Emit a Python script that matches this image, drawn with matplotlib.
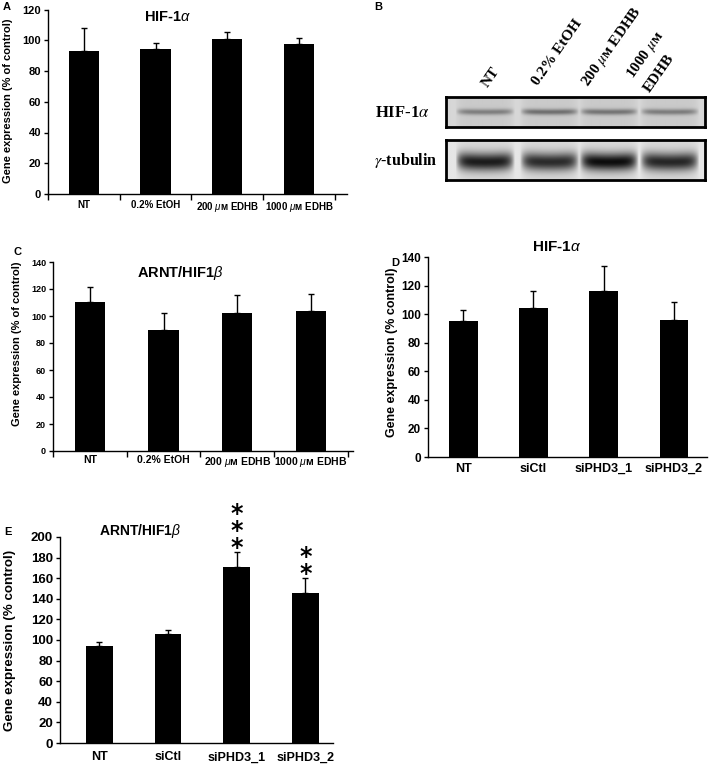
import numpy as np
import matplotlib
matplotlib.use("Agg")
import matplotlib.pyplot as plt

plt.rcParams["font.family"] = ["Liberation Sans", "DejaVu Sans"]
plt.rcParams["mathtext.fontset"] = "custom"
plt.rcParams["mathtext.it"] = "Liberation Sans:italic"
plt.rcParams["mathtext.rm"] = "Liberation Sans"

W, H = 709, 768

# Panel A: HIF-1a, EDHB treatment
a_labels = ["NT", "0.2% EtOH", r"200 $\mu$ᴍ EDHB", r"1000 $\mu$ᴍ EDHB"]
a_means = [93, 94.5, 100.5, 97.5]
a_err = [15, 3.5, 5, 4]

# Panel B: western blot lanes
b_lanes = ["NT", "0.2% EtOH", r"200 $\mu$ᴍ EDHB", r"1000 $\mu$ᴍ", "EDHB"]
b_hif = [0.30, 0.36, 0.34, 0.31]
b_tub = [0.74, 0.68, 0.80, 0.70]

# Panel C: ARNT, EDHB treatment
c_labels = a_labels
c_means = [110.5, 89.5, 102.5, 104]
c_err = [11, 12.5, 13, 12.5]

# Panel D: HIF-1a, siRNA
d_labels = ["NT", "siCtl", "siPHD3_1", "siPHD3_2"]
d_means = [95, 104, 116, 96]
d_err = [8, 12.5, 18, 12.5]

# Panel E: ARNT, siRNA
e_labels = d_labels
e_means = [94, 105.5, 171, 145.5]
e_err = [4.5, 4, 14.5, 14.5]
e_stars = [0, 0, 3, 2]


def rect(l, t, r, b):
    return [l / W, 1 - b / H, (r - l) / W, (b - t) / H]


def fig_text(x, y, s, **kw):
    fig.text(x / W, 1 - y / H, s, **kw)


def bar_panel(box, labels, means, err, ymax, ystep, xlim, width,
              yfs, xfs, xpad, cat_ticks):
    ax = fig.add_axes(rect(*box))
    x = np.arange(len(means))
    ax.bar(x, means, width=width, color="black", zorder=2)
    ax.errorbar(x, means, yerr=[np.zeros(len(err)), err], fmt="none",
                ecolor="black", elinewidth=1, capsize=2.5, capthick=1)
    ax.set_xlim(*xlim)
    ax.set_ylim(0, ymax)
    ax.set_yticks(np.arange(0, ymax + 1, ystep))
    ax.tick_params(axis="y", direction="out", length=3, width=1,
                   labelsize=yfs, pad=2)
    for t in ax.get_yticklabels():
        t.set_fontweight("bold")
    ax.set_xticks(x)
    ax.set_xticklabels(labels, fontsize=xfs, fontweight="bold")
    ax.tick_params(axis="x", length=0, pad=xpad)
    if cat_ticks:
        ax.set_xticks(np.arange(-0.5, len(means), 1.0), minor=True)
        ax.tick_params(axis="x", which="minor", direction="out",
                       length=4, width=1)
    for s in ["top", "right"]:
        ax.spines[s].set_visible(False)
    for s in ["left", "bottom"]:
        ax.spines[s].set_linewidth(1)
    return ax


fig = plt.figure(figsize=(W / 100, H / 100), dpi=100)

# A
axA = bar_panel((48, 9.5, 347, 194), a_labels, a_means, a_err, 120, 20,
                (-0.5, 3.67), 0.42, 8, 7, 4, True)
fig_text(168, 17, r"HIF-1$\alpha$", fontsize=10.5, fontweight="bold",
         ha="center", va="center")
fig_text(8, 101, "Gene expression (% of control)", fontsize=8,
         fontweight="bold", rotation=90, ha="center", va="center")
fig_text(7, 7, "A", fontsize=8, fontweight="bold", ha="center", va="center")

# C
axC = bar_panel((53, 262, 353, 451), c_labels, c_means, c_err, 140, 20,
                (-0.5, 3.57), 0.41, 6.5, 7.5, 3, True)
fig_text(180, 273, r"ARNT/HIF1$\beta$", fontsize=10.5, fontweight="bold",
         ha="center", va="center")
fig_text(17, 344, "Gene expression (% of control)", fontsize=8,
         fontweight="bold", rotation=90, ha="center", va="center")
fig_text(17, 252, "C", fontsize=8, fontweight="bold", ha="center", va="center")

# D
axD = bar_panel((428, 257, 707, 457), d_labels, d_means, d_err, 140, 20,
                (-0.5, 3.47), 0.41, 8.5, 9, 4, False)
fig_text(557, 247, r"HIF-1$\alpha$", fontsize=11, fontweight="bold",
         ha="center", va="center")
fig_text(392, 352, "Gene expression (% control)", fontsize=9,
         fontweight="bold", rotation=90, ha="center", va="center")
fig_text(395, 263, "D", fontsize=8, fontweight="bold", ha="center", va="center")

# E
axE = bar_panel((60, 537, 333, 743), e_labels, e_means, e_err, 200, 20,
                (-0.57, 3.4), 0.39, 9.5, 9, 6, False)
for i, n in enumerate(e_stars):
    if n:
        axE.annotate("\n".join(["*"] * n), (i, e_means[i] + e_err[i]),
                     xytext=(0, -8), textcoords="offset pixels",
                     ha="center", va="bottom", fontsize=17,
                     fontweight="bold", family="DejaVu Sans",
                     linespacing=0.62, annotation_clip=False)
fig_text(140, 531, r"ARNT/HIF1$\beta$", fontsize=10, fontweight="bold",
         ha="center", va="center")
fig_text(10, 640, "Gene expression (% control)", fontsize=9.6,
         fontweight="bold", rotation=90, ha="center", va="center")
fig_text(8, 532, "E", fontsize=8, fontweight="bold", ha="center", va="center")

# B: blot
fig_text(378, 7, "B", fontsize=8, fontweight="bold", ha="center", va="center")
lane_x = [0.15, 0.40, 0.63, 0.865]


def blot(box, dens, band_y, band_sig, bg):
    ax = fig.add_axes(rect(*box))
    nx, ny = 260, 60
    xx = np.linspace(0, 1, nx)
    yy = np.linspace(0, 1, ny)[:, None]
    img = np.full((ny, nx), bg)
    for cx, d in zip(lane_x, dens):
        lane = np.clip(1 - ((xx - cx) / 0.115) ** 6, 0, 1)
        curve = band_y - 0.25 * ((xx - cx) / 0.115) ** 2 * band_sig
        prof = np.exp(-0.5 * ((yy - curve) / band_sig) ** 2)
        img = img - d * lane * prof - 0.05 * lane
    ax.imshow(np.clip(img, 0, 1), cmap="gray", vmin=0, vmax=1,
              extent=[0, 1, 0, 1], aspect="auto", origin="upper",
              interpolation="bilinear")
    ax.set_xticks([])
    ax.set_yticks([])
    for s in ax.spines.values():
        s.set_linewidth(2)
    return ax


axB1 = blot((446, 97, 705, 127), b_hif, 0.5, 0.07, 0.84)
axB2 = blot((446, 140, 705, 180), b_tub, 0.55, 0.16, 0.9)
fig_text(375, 113, r"HIF-1$\alpha$", fontsize=12, fontweight="bold",
         family="Liberation Serif", math_fontfamily="stix",
         ha="left", va="center")
fig_text(374, 160, r"$\gamma$-tubulin", fontsize=11.5, fontweight="bold",
         family="Liberation Serif", math_fontfamily="stix",
         ha="left", va="center")

lab_pos = [(490, 90), (540, 88), (592, 90), (637, 82), (652, 95)]
for s, (px, py) in zip(b_lanes, lab_pos):
    fig_text(px, py, s, fontsize=11, fontweight="bold", rotation=55,
             rotation_mode="anchor", ha="left", va="bottom",
             family=["Liberation Serif", "DejaVu Serif"],
             math_fontfamily="stix")

fig.savefig("out.png", dpi=100)
